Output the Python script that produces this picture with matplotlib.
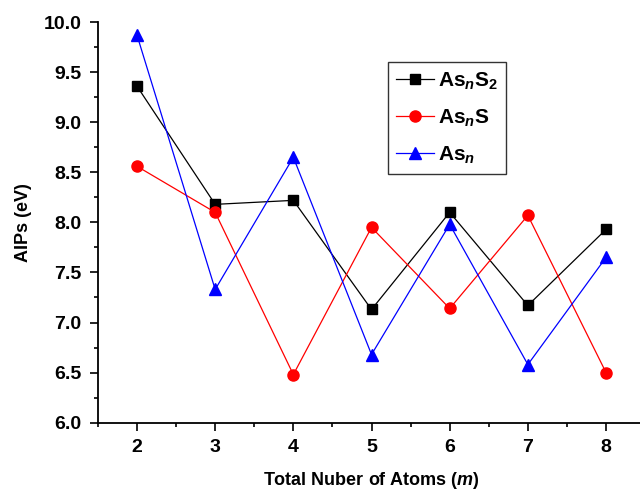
import matplotlib
matplotlib.use("Agg")
import matplotlib.pyplot as plt

# Data
atoms = [2, 3, 4, 5, 6, 7, 8]
as_n_s2 = [9.36, 8.18, 8.22, 7.13, 8.10, 7.17, 7.93]
as_n_s = [8.56, 8.10, 6.48, 7.95, 7.14, 8.07, 6.50]
as_n = [9.87, 7.33, 8.65, 6.68, 7.98, 6.58, 7.65]

plt.rcParams['font.family'] = ['Liberation Sans', 'DejaVu Sans']
plt.rcParams['mathtext.fontset'] = 'custom'
plt.rcParams['mathtext.rm'] = 'Liberation Sans:bold'
plt.rcParams['mathtext.it'] = 'Liberation Sans:bold:italic'
plt.rcParams['mathtext.bf'] = 'Liberation Sans:bold'

fig = plt.figure(figsize=(6.4, 4.92), dpi=100)
ax = fig.add_axes([0.153, 0.141, 0.855, 0.814])

ax.plot(atoms, as_n_s2, color='black', marker='s', markersize=7, linewidth=0.9,
        label=r'$\mathrm{As}_{\mathit{n}}\mathrm{S}_{2}$')
ax.plot(atoms, as_n_s, color='red', marker='o', markersize=8, linewidth=0.9,
        label=r'$\mathrm{As}_{\mathit{n}}\mathrm{S}$')
ax.plot(atoms, as_n, color='blue', marker='^', markersize=8, linewidth=0.9,
        label=r'$\mathrm{As}_{\mathit{n}}$')

ax.set_xlim(1.5, 8.5)
ax.set_ylim(6.0, 10.0)
ax.set_xticks(atoms)
ax.set_xticks([x + 0.5 for x in atoms[:-1]] + [1.5], minor=True)
ax.set_yticks([6.0, 6.5, 7.0, 7.5, 8.0, 8.5, 9.0, 9.5, 10.0])
ax.set_yticks([6.25 + 0.5 * i for i in range(8)], minor=True)
ax.set_yticklabels(['%.1f' % v for v in ax.get_yticks()])

for lab in ax.get_xticklabels() + ax.get_yticklabels():
    lab.set_fontweight('bold')
ax.tick_params(axis='both', which='major', direction='out', length=6, width=1.2,
               labelsize=14, pad=6)
ax.tick_params(axis='both', which='minor', direction='out', length=3, width=1.2)

ax.spines['top'].set_visible(False)
ax.spines['right'].set_visible(False)
ax.spines['left'].set_linewidth(1.3)
ax.spines['bottom'].set_linewidth(1.3)

ax.set_xlabel(r'Total Nuber of Atoms ($\mathit{m}$)', fontsize=13, fontweight='bold',
              labelpad=10)
ax.set_ylabel('AIPs (eV)', fontsize=13, fontweight='bold', labelpad=8)

leg = ax.legend(loc='upper left', bbox_to_anchor=(0.53, 0.9), fontsize=15,
                frameon=True, fancybox=False, edgecolor='black', handlelength=1.8,
                handletextpad=0.2, borderpad=0.4, labelspacing=0.75,
                borderaxespad=0)
leg.get_frame().set_linewidth(1.0)

plt.savefig('out.png', dpi=100)
plt.close()
